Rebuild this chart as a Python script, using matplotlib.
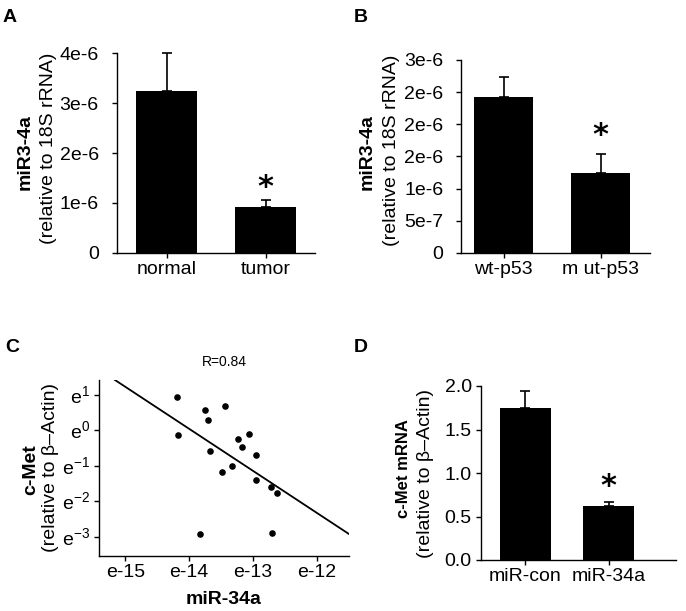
import matplotlib
matplotlib.use("Agg")
import matplotlib.pyplot as plt
import numpy as np

plt.rcParams['font.family'] = ['Liberation Sans', 'DejaVu Sans']
plt.rcParams['mathtext.fontset'] = 'custom'
plt.rcParams['mathtext.rm'] = 'Liberation Sans'

# ---- Panel A data ----
a_cats = ['normal', 'tumor']
a_vals = [3.24e-6, 0.92e-6]
a_errs = [0.76e-6, 0.14e-6]
a_ticks = [0, 1e-6, 2e-6, 3e-6, 4e-6]
a_ticklabels = ['0', '1e-6', '2e-6', '3e-6', '4e-6']

# ---- Panel B data ----
b_cats = ['wt-p53', 'm ut-p53']
b_vals = [2.42e-6, 1.25e-6]
b_errs = [0.31e-6, 0.29e-6]
b_ticks = [0, 5e-7, 1e-6, 1.5e-6, 2e-6, 2.5e-6, 3e-6]
b_ticklabels = ['0', '5e-7', '1e-6', '2e-6', '2e-6', '2e-6', '3e-6']

# ---- Panel C data (natural-log exponents) ----
c_x = [-14.19, -14.18, -13.75, -13.70, -13.44, -13.67, -13.83, -13.48, -13.33,
       -13.23, -13.17, -13.07, -12.96, -12.96, -12.72, -12.63, -12.71]
c_y = [0.93, -0.12, 0.58, 0.28, 0.69, -0.59, -2.92, -1.18, -1.02,
       -0.24, -0.47, -0.11, -0.70, -1.40, -1.61, -1.78, -2.91]
c_line_x = [-15.16, -11.50]
c_line_y = [1.42, -2.93]
c_xticks = [-15, -14, -13, -12]
c_xticklabels = ['e-15', 'e-14', 'e-13', 'e-12']
c_yticks = [1, 0, -1, -2, -3]
c_yticklabels = ['e$^{1}$', 'e$^{0}$', 'e$^{-1}$', 'e$^{-2}$', 'e$^{-3}$']

# ---- Panel D data ----
d_cats = ['miR-con', 'miR-34a']
d_vals = [1.75, 0.62]
d_errs = [0.19, 0.05]
d_ticks = [0.0, 0.5, 1.0, 1.5, 2.0]
d_ticklabels = ['0.0', '0.5', '1.0', '1.5', '2.0']

W, H = 686, 611
fig = plt.figure(figsize=(W / 100, H / 100), dpi=100)
BOLD = ['Liberation Sans', 'DejaVu Sans']

def ax_at(l, r, t, b):
    return fig.add_axes([l / W, (H - b) / H, (r - l) / W, (b - t) / H])

def style(ax, ypad=2, fs=14):
    for s in ['top', 'right']:
        ax.spines[s].set_visible(False)
    for s in ['left', 'bottom']:
        ax.spines[s].set_linewidth(1.0)
    ax.tick_params(direction='out', length=3.6, width=1.0, labelsize=fs)
    ax.tick_params(axis='x', pad=2)
    ax.tick_params(axis='y', pad=ypad)

def barpanel(ax, cats, vals, errs, xlim, ylim, ticks, ticklabels, star_off, ypad):
    x = np.arange(len(cats))
    ax.bar(x, vals, width=0.61, color='black', zorder=2)
    ax.errorbar(x, vals, yerr=[np.zeros(len(errs)), errs], fmt='none', ecolor='black',
                elinewidth=1.2, capsize=3.6, capthick=1.2, clip_on=False, zorder=1)
    ax.set_xlim(*xlim)
    ax.set_ylim(*ylim)
    ax.set_yticks(ticks)
    ax.set_yticklabels(ticklabels)
    ax.set_xticks(x)
    ax.set_xticklabels(cats)
    style(ax, ypad)
    ax.annotate('*', xy=(x[1], vals[1] + errs[1]), xytext=(0, star_off),
                textcoords='offset points', ha='center', va='center',
                fontsize=22, fontweight='bold', family='DejaVu Sans')

# Panel A
axA = ax_at(117, 315, 53, 253)
barpanel(axA, a_cats, a_vals, a_errs, (-0.5, 1.5), (0, 4e-6), a_ticks, a_ticklabels, 9, 9.5)
fig.text(25 / W, 1 - 152 / H, 'miR3-4a', rotation=90, ha='center', va='center',
         fontsize=14, fontweight='bold', family=BOLD)
fig.text(49 / W, 1 - 148 / H, '(relative to 18S rRNA)', rotation=90, ha='center', va='center', fontsize=14)
fig.text(10 / W, 1 - 17 / H, 'A', ha='center', va='center', fontsize=14, fontweight='bold', family=BOLD)

# Panel B
axB = ax_at(461, 650, 60, 253)
barpanel(axB, b_cats, b_vals, b_errs, (-0.44, 1.51), (0, 3e-6), b_ticks, b_ticklabels, 13, 9)
fig.text(367 / W, 1 - 152 / H, 'miR3-4a', rotation=90, ha='center', va='center',
         fontsize=14, fontweight='bold', family=BOLD)
fig.text(392 / W, 1 - 150 / H, '(relative to 18S rRNA)', rotation=90, ha='center', va='center', fontsize=14)
fig.text(361 / W, 1 - 17 / H, 'B', ha='center', va='center', fontsize=14, fontweight='bold', family=BOLD)

# Panel C
axC = ax_at(99, 349, 380, 556)
axC.scatter(c_x, c_y, s=14, color='black', zorder=3)
axC.plot(c_line_x, c_line_y, color='black', lw=1.3)
axC.set_xlim(-15.41, -11.5)
axC.set_ylim(-3.55, 1.42)
axC.set_xticks(c_xticks)
axC.set_xticklabels(c_xticklabels)
axC.set_yticks(c_yticks)
axC.set_yticklabels(c_yticklabels)
style(axC, 3)
axC.set_title('R=0.84', fontsize=10, pad=10)
axC.set_xlabel('miR-34a', fontsize=14, fontweight='bold', family=BOLD, labelpad=7)
fig.text(31 / W, 1 - 470 / H, 'c-Met', rotation=90, ha='center', va='center',
         fontsize=14, fontweight='bold', family=BOLD)
fig.text(51 / W, 1 - 468 / H, '(relative to \u03b2\u2013Actin)', rotation=90, ha='center', va='center', fontsize=14)
fig.text(12 / W, 1 - 347 / H, 'C', ha='center', va='center', fontsize=14, fontweight='bold', family=BOLD)

# Panel D
axD = ax_at(481, 676, 386, 560)
barpanel(axD, d_cats, d_vals, d_errs, (-0.53, 1.81), (0, 2.0), d_ticks, d_ticklabels, 11, 3)
fig.text(404 / W, 1 - 469 / H, 'c-Met mRNA', rotation=90, ha='center', va='center',
         fontsize=12, fontweight='bold', family=BOLD)
fig.text(425 / W, 1 - 473 / H, '(relative to \u03b2\u2013Actin)', rotation=90, ha='center', va='center', fontsize=14)
fig.text(361 / W, 1 - 347 / H, 'D', ha='center', va='center', fontsize=14, fontweight='bold', family=BOLD)

fig.savefig('out.png', dpi=100)
